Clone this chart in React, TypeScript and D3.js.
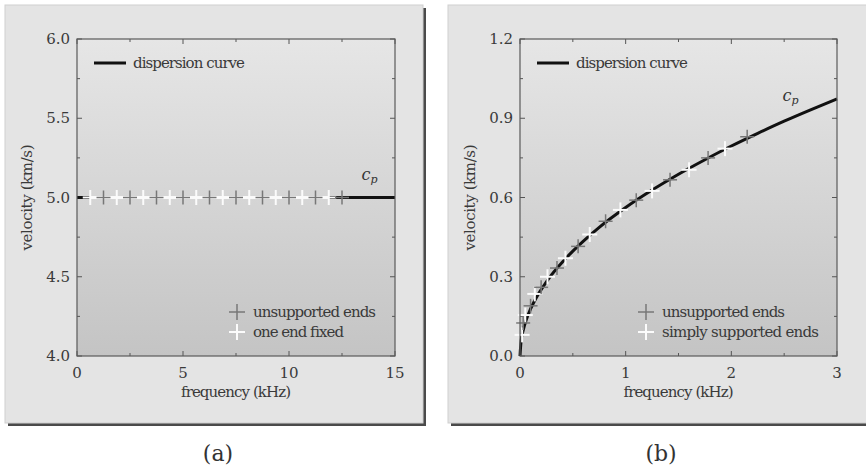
import React from "react";
import * as d3 from "d3";

// ---- panel (a): longitudinal waves ----
const A_CURVE_F = [0, 15];
const A_CURVE_V = [5.0, 5.0];
const A_FREE_F = [1.25, 2.5, 3.75, 5, 6.25, 7.5, 8.75, 10, 11.25, 12.5];
const A_FREE_V = [5.0, 5.0, 5.0, 5.0, 5.0, 5.0, 5.0, 5.0, 5.0, 5.0];
const A_FIXED_F = [0.625, 1.875, 3.125, 4.375, 5.625, 6.875, 8.125, 9.375, 10.625, 11.875];
const A_FIXED_V = [5.0, 5.0, 5.0, 5.0, 5.0, 5.0, 5.0, 5.0, 5.0, 5.0];
const A_X_TICKS = [0, 5, 10, 15];
const A_X_MINOR = [2.5, 7.5, 12.5];
const A_Y_TICKS = [4.0, 4.5, 5.0, 5.5, 6.0];
const A_Y_MINOR = [4.25, 4.75, 5.25, 5.75];

// ---- panel (b): flexural waves ----
const B_CURVE_F = [0, 0.01, 0.03, 0.06, 0.1, 0.15, 0.2, 0.3, 0.4, 0.5, 0.6, 0.75, 1.0, 1.25, 1.5, 1.75, 2.0, 2.25, 2.5, 2.75, 3.0];
const B_CURVE_V = [0, 0.056, 0.097, 0.138, 0.178, 0.218, 0.251, 0.308, 0.355, 0.397, 0.435, 0.487, 0.562, 0.628, 0.688, 0.743, 0.795, 0.843, 0.889, 0.932, 0.973];
const B_FREE_F = [0.03, 0.1, 0.2, 0.35, 0.55, 0.81, 1.1, 1.42, 1.78, 2.15];
const B_FREE_V = [0.125, 0.19, 0.26, 0.333, 0.415, 0.51, 0.59, 0.667, 0.75, 0.83];
const B_SIMPLE_F = [0.02, 0.05, 0.14, 0.26, 0.43, 0.66, 0.95, 1.25, 1.6, 1.94];
const B_SIMPLE_V = [0.08, 0.155, 0.235, 0.3, 0.37, 0.46, 0.553, 0.625, 0.705, 0.785];
const B_X_TICKS = [0, 1, 2, 3];
const B_X_MINOR = [0.5, 1.5, 2.5];
const B_Y_TICKS = [0.0, 0.3, 0.6, 0.9, 1.2];
const B_Y_MINOR = [0.15, 0.45, 0.75, 1.05];

const FONT = "'DejaVu Serif', serif";

type Pt = { f: number; v: number };
const zip = (f: number[], v: number[]): Pt[] => f.map((x, i) => ({ f: x, v: v[i] }));

type PanelProps = {
  box: { x: number; y: number; w: number; h: number };
  plot: { left: number; right: number; top: number; bottom: number };
  xDomain: [number, number];
  yDomain: [number, number];
  xTicks: number[];
  xMinor: number[];
  yTicks: number[];
  yMinor: number[];
  curve: Pt[];
  gray: Pt[];
  white: Pt[];
  connect: boolean;
  legendX: number;
  whiteLabel: string;
  whiteLen: number;
  cp: Pt;
  caption: string;
  captionX: number;
  gid: string;
};

const Plus = ({ x, y, r, color, w }: { x: number; y: number; r: number; color: string; w: number }) => (
  <g stroke={color} strokeWidth={w}>
    <line x1={x - r} x2={x + r} y1={y} y2={y} />
    <line x1={x} x2={x} y1={y - r} y2={y + r} />
  </g>
);

const Panel = (p: PanelProps) => {
  const { plot } = p;
  const x = d3.scaleLinear().domain(p.xDomain).range([plot.left, plot.right]);
  const y = d3.scaleLinear().domain(p.yDomain).range([plot.bottom, plot.top]);
  const line = d3
    .line<Pt>()
    .x((d) => x(d.f))
    .y((d) => y(d.v))
    .curve(d3.curveMonotoneX);
  const straight = d3
    .line<Pt>()
    .x((d) => x(d.f))
    .y((d) => y(d.v));
  const fmtY = d3.format(".1f");
  const major = 5;
  const minor = 3;
  const tickColor = "#555";
  const cx = (plot.left + plot.right) / 2;
  const cy = (plot.top + plot.bottom) / 2;

  return (
    <g>
      <defs>
        <linearGradient id={p.gid} x1="0" y1="0" x2="0" y2="1">
          <stop offset="0%" stopColor="#e6e6e6" />
          <stop offset="100%" stopColor="#c4c4c4" />
        </linearGradient>
      </defs>
      {/* panel with drop shadow */}
      <rect x={p.box.x + 3} y={p.box.y + 3} width={p.box.w} height={p.box.h} fill="#4a4a4a" />
      <rect x={p.box.x} y={p.box.y} width={p.box.w} height={p.box.h} fill="#e4e4e4" stroke="#cfcfcf" />

      {/* plot area */}
      <rect
        x={plot.left}
        y={plot.top}
        width={plot.right - plot.left}
        height={plot.bottom - plot.top}
        fill={`url(#${p.gid})`}
      />

      {/* ticks on all four sides, pointing inward */}
      <g stroke={tickColor} strokeWidth={1}>
        {p.xTicks.concat(p.xMinor).map((t, i) => {
          const len = i < p.xTicks.length ? major : minor;
          return (
            <g key={`xt${i}`}>
              <line x1={x(t)} x2={x(t)} y1={plot.bottom} y2={plot.bottom - len} />
              <line x1={x(t)} x2={x(t)} y1={plot.top} y2={plot.top + len} />
            </g>
          );
        })}
        {p.yTicks.concat(p.yMinor).map((t, i) => {
          const len = i < p.yTicks.length ? major : minor;
          return (
            <g key={`yt${i}`}>
              <line x1={plot.left} x2={plot.left + len} y1={y(t)} y2={y(t)} />
              <line x1={plot.right} x2={plot.right - len} y1={y(t)} y2={y(t)} />
            </g>
          );
        })}
      </g>

      {/* data */}
      <path d={line(p.curve) || ""} fill="none" stroke="#111" strokeWidth={3} />
      {p.connect && (
        <>
          <path d={straight(p.white) || ""} fill="none" stroke="#fafafa" strokeWidth={3} />
          <path d={straight(p.gray) || ""} fill="none" stroke="#8a8a8a" strokeWidth={1} />
        </>
      )}
      {p.white.map((d, i) => (
        <Plus key={`w${i}`} x={x(d.f)} y={y(d.v)} r={7.5} color="#fbfbfb" w={2} />
      ))}
      {p.gray.map((d, i) => (
        <Plus key={`g${i}`} x={x(d.f)} y={y(d.v)} r={7} color="#777" w={1.5} />
      ))}

      {/* frame */}
      <rect
        x={plot.left}
        y={plot.top}
        width={plot.right - plot.left}
        height={plot.bottom - plot.top}
        fill="none"
        stroke="#5a5a5a"
        strokeWidth={1.2}
      />

      {/* text */}
      <g fontFamily={FONT} fontSize={15} fill="#3a3a3a">
        {p.xTicks.map((t) => (
          <text key={`xl${t}`} x={x(t)} y={plot.bottom + 22} textAnchor="middle">
            {t}
          </text>
        ))}
        {p.yTicks.map((t) => (
          <text key={`yl${t}`} x={plot.left - 7} y={y(t) + 5} textAnchor="end">
            {fmtY(t)}
          </text>
        ))}
        <text x={cx} y={plot.bottom + 41} textAnchor="middle" textLength={110}>
          frequency (kHz)
        </text>
        <text transform={`translate(${plot.left - 45},${cy}) rotate(-90)`} textAnchor="middle" textLength={106}>
          velocity (km/s)
        </text>

        {/* top legend */}
        <line x1={plot.left + 17} x2={plot.left + 49} y1={plot.top + 24} y2={plot.top + 24} stroke="#111" strokeWidth={3} />
        <text x={plot.left + 56} y={plot.top + 29} textLength={112}>
          dispersion curve
        </text>

        {/* bottom legend */}
        <Plus x={p.legendX} y={plot.bottom - 44} r={8} color="#777" w={1.5} />
        <text x={p.legendX + 16} y={plot.bottom - 39} textLength={123}>
          unsupported ends
        </text>
        <Plus x={p.legendX} y={plot.bottom - 24} r={8} color="#fbfbfb" w={2} />
        <text x={p.legendX + 16} y={plot.bottom - 19} textLength={p.whiteLen}>
          {p.whiteLabel}
        </text>

        {/* c_p label */}
        <text x={x(p.cp.f)} y={y(p.cp.v)} textAnchor="middle" fontStyle="italic" fontSize={16} fill="#333">
          c<tspan fontSize={11} dy={3}>p</tspan>
        </text>
      </g>

      <text x={p.captionX} y={461} textAnchor="middle" fontFamily={FONT} fontSize={22} fill="#333">
        {p.caption}
      </text>
    </g>
  );
};

export default function App() {
  return (
    <div style={{ position: "absolute", left: 0, top: 0 }}>
      <svg width={866} height={470} style={{ display: "block", background: "#fff" }}>
        <Panel
          gid="gradA"
          box={{ x: 5, y: 5, w: 418, h: 418 }}
          plot={{ left: 77, right: 395, top: 39, bottom: 356 }}
          xDomain={[0, 15]}
          yDomain={[4, 6]}
          xTicks={A_X_TICKS}
          xMinor={A_X_MINOR}
          yTicks={A_Y_TICKS}
          yMinor={A_Y_MINOR}
          curve={zip(A_CURVE_F, A_CURVE_V)}
          gray={zip(A_FREE_F, A_FREE_V)}
          white={zip(A_FIXED_F, A_FIXED_V)}
          connect={true}
          legendX={237}
          whiteLabel="one end fixed"
          whiteLen={91}
          cp={{ f: 13.8, v: 5.11 }}
          caption="(a)"
          captionX={218}
        />
        <Panel
          gid="gradB"
          box={{ x: 448, y: 5, w: 425, h: 418 }}
          plot={{ left: 520, right: 837, top: 39, bottom: 356 }}
          xDomain={[0, 3]}
          yDomain={[0, 1.2]}
          xTicks={B_X_TICKS}
          xMinor={B_X_MINOR}
          yTicks={B_Y_TICKS}
          yMinor={B_Y_MINOR}
          curve={zip(B_CURVE_F, B_CURVE_V)}
          gray={zip(B_FREE_F, B_FREE_V)}
          white={zip(B_SIMPLE_F, B_SIMPLE_V)}
          connect={false}
          legendX={646}
          whiteLabel="simply supported ends"
          whiteLen={157}
          cp={{ f: 2.56, v: 0.965 }}
          caption="(b)"
          captionX={661}
        />
      </svg>
    </div>
  );
}
